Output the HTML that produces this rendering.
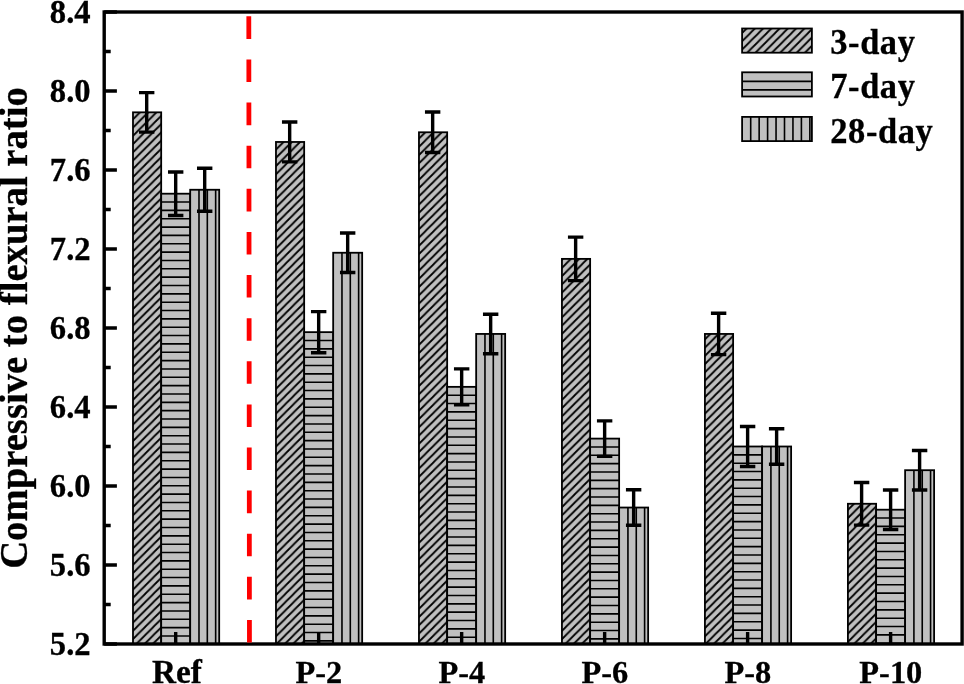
<!DOCTYPE html>
<html lang="en"><head><meta charset="utf-8"><title>Compressive to flexural ratio</title>
<style>html,body{margin:0;padding:0;background:#fff;}body{width:964px;height:684px;overflow:hidden;}svg{display:block;will-change:transform;}text{font-family:"Liberation Serif","Times New Roman",serif;font-weight:bold;fill:#000;stroke:#000;stroke-width:0.3px;}</style></head><body>
<svg width="964" height="684" viewBox="0 0 964 684">
<defs>
<pattern id="hd" patternUnits="userSpaceOnUse" width="8.25" height="8.25" patternTransform="translate(4.8,0)"><rect width="8.25" height="8.25" fill="#c0c0c0"/><path d="M-4.125,4.125 L4.125,-4.125 M-1,9.25 L9.25,-1 M4.125,12.375 L12.375,4.125" stroke="#000" stroke-width="1.8" fill="none"/></pattern>
<pattern id="hd2" patternUnits="userSpaceOnUse" width="8.25" height="8.25" patternTransform="translate(7.9,0)"><rect width="8.25" height="8.25" fill="#c0c0c0"/><path d="M-4.125,4.125 L4.125,-4.125 M-1,9.25 L9.25,-1 M4.125,12.375 L12.375,4.125" stroke="#000" stroke-width="1.8" fill="none"/></pattern>
</defs>
<rect width="964" height="684" fill="#fff"/>
<g>
<rect x="132.99" y="112.33" width="28.2" height="531.67" fill="url(#hd)"/>
<rect x="132.99" y="112.33" width="28.2" height="531.67" fill="none" stroke="#000" stroke-width="1.8"/>
</g>
<g>
<rect x="161.19" y="193.70" width="29.0" height="450.30" fill="#c0c0c0"/>
<path d="M161.19,202.04h29.0M161.19,210.39h29.0M161.19,218.73h29.0M161.19,227.08h29.0M161.19,235.42h29.0M161.19,243.77h29.0M161.19,252.11h29.0M161.19,260.46h29.0M161.19,268.81h29.0M161.19,277.15h29.0M161.19,285.50h29.0M161.19,293.84h29.0M161.19,302.19h29.0M161.19,310.53h29.0M161.19,318.88h29.0M161.19,327.22h29.0M161.19,335.57h29.0M161.19,343.91h29.0M161.19,352.26h29.0M161.19,360.60h29.0M161.19,368.95h29.0M161.19,377.29h29.0M161.19,385.64h29.0M161.19,393.98h29.0M161.19,402.33h29.0M161.19,410.67h29.0M161.19,419.02h29.0M161.19,427.36h29.0M161.19,435.71h29.0M161.19,444.05h29.0M161.19,452.40h29.0M161.19,460.74h29.0M161.19,469.09h29.0M161.19,477.43h29.0M161.19,485.78h29.0M161.19,494.12h29.0M161.19,502.47h29.0M161.19,510.81h29.0M161.19,519.16h29.0M161.19,527.50h29.0M161.19,535.85h29.0M161.19,544.19h29.0M161.19,552.54h29.0M161.19,560.88h29.0M161.19,569.23h29.0M161.19,577.57h29.0M161.19,585.92h29.0M161.19,594.26h29.0M161.19,602.61h29.0M161.19,610.95h29.0M161.19,619.30h29.0M161.19,627.64h29.0M161.19,635.99h29.0" stroke="#000" stroke-width="1.6" fill="none"/>
<rect x="161.19" y="193.70" width="29.0" height="450.30" fill="none" stroke="#000" stroke-width="1.8"/>
</g>
<g>
<rect x="190.19" y="189.75" width="29.0" height="454.25" fill="#c0c0c0"/>
<path d="M198.99,189.75V644.0M207.32,189.75V644.0M215.65,189.75V644.0" stroke="#000" stroke-width="1.6" fill="none"/>
<rect x="190.19" y="189.75" width="29.0" height="454.25" fill="none" stroke="#000" stroke-width="1.8"/>
</g>
<g>
<rect x="275.97" y="141.96" width="28.2" height="502.04" fill="url(#hd)"/>
<rect x="275.97" y="141.96" width="28.2" height="502.04" fill="none" stroke="#000" stroke-width="1.8"/>
</g>
<g>
<rect x="304.17" y="332.15" width="29.0" height="311.85" fill="#c0c0c0"/>
<path d="M304.17,340.49h29.0M304.17,348.84h29.0M304.17,357.18h29.0M304.17,365.53h29.0M304.17,373.87h29.0M304.17,382.22h29.0M304.17,390.56h29.0M304.17,398.91h29.0M304.17,407.25h29.0M304.17,415.60h29.0M304.17,423.94h29.0M304.17,432.29h29.0M304.17,440.63h29.0M304.17,448.98h29.0M304.17,457.32h29.0M304.17,465.67h29.0M304.17,474.01h29.0M304.17,482.36h29.0M304.17,490.70h29.0M304.17,499.05h29.0M304.17,507.39h29.0M304.17,515.74h29.0M304.17,524.08h29.0M304.17,532.43h29.0M304.17,540.77h29.0M304.17,549.12h29.0M304.17,557.46h29.0M304.17,565.81h29.0M304.17,574.15h29.0M304.17,582.50h29.0M304.17,590.84h29.0M304.17,599.19h29.0M304.17,607.53h29.0M304.17,615.88h29.0M304.17,624.22h29.0M304.17,632.57h29.0M304.17,640.91h29.0" stroke="#000" stroke-width="1.6" fill="none"/>
<rect x="304.17" y="332.15" width="29.0" height="311.85" fill="none" stroke="#000" stroke-width="1.8"/>
</g>
<g>
<rect x="333.17" y="252.75" width="29.0" height="391.25" fill="#c0c0c0"/>
<path d="M341.97,252.75V644.0M350.30,252.75V644.0M358.63,252.75V644.0" stroke="#000" stroke-width="1.6" fill="none"/>
<rect x="333.17" y="252.75" width="29.0" height="391.25" fill="none" stroke="#000" stroke-width="1.8"/>
</g>
<g>
<rect x="418.96" y="132.28" width="28.2" height="511.72" fill="url(#hd)"/>
<rect x="418.96" y="132.28" width="28.2" height="511.72" fill="none" stroke="#000" stroke-width="1.8"/>
</g>
<g>
<rect x="447.16" y="386.86" width="29.0" height="257.14" fill="#c0c0c0"/>
<path d="M447.16,395.20h29.0M447.16,403.55h29.0M447.16,411.89h29.0M447.16,420.24h29.0M447.16,428.58h29.0M447.16,436.93h29.0M447.16,445.27h29.0M447.16,453.62h29.0M447.16,461.96h29.0M447.16,470.31h29.0M447.16,478.65h29.0M447.16,487.00h29.0M447.16,495.34h29.0M447.16,503.69h29.0M447.16,512.03h29.0M447.16,520.38h29.0M447.16,528.72h29.0M447.16,537.07h29.0M447.16,545.41h29.0M447.16,553.76h29.0M447.16,562.10h29.0M447.16,570.45h29.0M447.16,578.79h29.0M447.16,587.14h29.0M447.16,595.48h29.0M447.16,603.83h29.0M447.16,612.17h29.0M447.16,620.52h29.0M447.16,628.86h29.0M447.16,637.21h29.0" stroke="#000" stroke-width="1.6" fill="none"/>
<rect x="447.16" y="386.86" width="29.0" height="257.14" fill="none" stroke="#000" stroke-width="1.8"/>
</g>
<g>
<rect x="476.16" y="333.93" width="29.0" height="310.07" fill="#c0c0c0"/>
<path d="M484.96,333.93V644.0M493.29,333.93V644.0M501.62,333.93V644.0" stroke="#000" stroke-width="1.6" fill="none"/>
<rect x="476.16" y="333.93" width="29.0" height="310.07" fill="none" stroke="#000" stroke-width="1.8"/>
</g>
<g>
<rect x="561.94" y="258.88" width="28.2" height="385.12" fill="url(#hd)"/>
<rect x="561.94" y="258.88" width="28.2" height="385.12" fill="none" stroke="#000" stroke-width="1.8"/>
</g>
<g>
<rect x="590.14" y="438.60" width="29.0" height="205.40" fill="#c0c0c0"/>
<path d="M590.14,446.95h29.0M590.14,455.29h29.0M590.14,463.64h29.0M590.14,471.98h29.0M590.14,480.33h29.0M590.14,488.67h29.0M590.14,497.02h29.0M590.14,505.36h29.0M590.14,513.71h29.0M590.14,522.05h29.0M590.14,530.40h29.0M590.14,538.74h29.0M590.14,547.09h29.0M590.14,555.43h29.0M590.14,563.78h29.0M590.14,572.12h29.0M590.14,580.47h29.0M590.14,588.81h29.0M590.14,597.16h29.0M590.14,605.50h29.0M590.14,613.85h29.0M590.14,622.19h29.0M590.14,630.54h29.0M590.14,638.88h29.0" stroke="#000" stroke-width="1.6" fill="none"/>
<rect x="590.14" y="438.60" width="29.0" height="205.40" fill="none" stroke="#000" stroke-width="1.8"/>
</g>
<g>
<rect x="619.14" y="507.53" width="29.0" height="136.47" fill="#c0c0c0"/>
<path d="M627.94,507.53V644.0M636.27,507.53V644.0M644.60,507.53V644.0" stroke="#000" stroke-width="1.6" fill="none"/>
<rect x="619.14" y="507.53" width="29.0" height="136.47" fill="none" stroke="#000" stroke-width="1.8"/>
</g>
<g>
<rect x="704.92" y="333.93" width="28.2" height="310.07" fill="url(#hd)"/>
<rect x="704.92" y="333.93" width="28.2" height="310.07" fill="none" stroke="#000" stroke-width="1.8"/>
</g>
<g>
<rect x="733.12" y="446.50" width="29.0" height="197.50" fill="#c0c0c0"/>
<path d="M733.12,454.85h29.0M733.12,463.19h29.0M733.12,471.54h29.0M733.12,479.88h29.0M733.12,488.23h29.0M733.12,496.57h29.0M733.12,504.92h29.0M733.12,513.26h29.0M733.12,521.61h29.0M733.12,529.95h29.0M733.12,538.30h29.0M733.12,546.64h29.0M733.12,554.99h29.0M733.12,563.33h29.0M733.12,571.68h29.0M733.12,580.02h29.0M733.12,588.37h29.0M733.12,596.71h29.0M733.12,605.06h29.0M733.12,613.40h29.0M733.12,621.75h29.0M733.12,630.09h29.0M733.12,638.44h29.0" stroke="#000" stroke-width="1.6" fill="none"/>
<rect x="733.12" y="446.50" width="29.0" height="197.50" fill="none" stroke="#000" stroke-width="1.8"/>
</g>
<g>
<rect x="762.12" y="446.50" width="29.0" height="197.50" fill="#c0c0c0"/>
<path d="M770.92,446.50V644.0M779.25,446.50V644.0M787.59,446.50V644.0" stroke="#000" stroke-width="1.6" fill="none"/>
<rect x="762.12" y="446.50" width="29.0" height="197.50" fill="none" stroke="#000" stroke-width="1.8"/>
</g>
<g>
<rect x="847.91" y="503.77" width="28.2" height="140.23" fill="url(#hd)"/>
<rect x="847.91" y="503.77" width="28.2" height="140.23" fill="none" stroke="#000" stroke-width="1.8"/>
</g>
<g>
<rect x="876.11" y="509.70" width="29.0" height="134.30" fill="#c0c0c0"/>
<path d="M876.11,518.05h29.0M876.11,526.39h29.0M876.11,534.74h29.0M876.11,543.08h29.0M876.11,551.43h29.0M876.11,559.77h29.0M876.11,568.12h29.0M876.11,576.46h29.0M876.11,584.81h29.0M876.11,593.15h29.0M876.11,601.50h29.0M876.11,609.84h29.0M876.11,618.19h29.0M876.11,626.53h29.0M876.11,634.88h29.0M876.11,643.22h29.0" stroke="#000" stroke-width="1.6" fill="none"/>
<rect x="876.11" y="509.70" width="29.0" height="134.30" fill="none" stroke="#000" stroke-width="1.8"/>
</g>
<g>
<rect x="905.11" y="470.20" width="29.0" height="173.80" fill="#c0c0c0"/>
<path d="M913.91,470.20V644.0M922.24,470.20V644.0M930.57,470.20V644.0" stroke="#000" stroke-width="1.6" fill="none"/>
<rect x="905.11" y="470.20" width="29.0" height="173.80" fill="none" stroke="#000" stroke-width="1.8"/>
</g>
<path d="M146.69,92.58V132.08M138.99,92.58h15.4M138.99,132.08h15.4" stroke="#000" stroke-width="3.4" fill="none"/>
<path d="M175.69,171.97V215.43M167.99,171.97h15.4M167.99,215.43h15.4" stroke="#000" stroke-width="3.4" fill="none"/>
<path d="M204.69,168.22V211.28M196.99,168.22h15.4M196.99,211.28h15.4" stroke="#000" stroke-width="3.4" fill="none"/>
<path d="M289.67,122.01V161.90M281.97,122.01h15.4M281.97,161.90h15.4" stroke="#000" stroke-width="3.4" fill="none"/>
<path d="M318.67,311.61V352.69M310.97,311.61h15.4M310.97,352.69h15.4" stroke="#000" stroke-width="3.4" fill="none"/>
<path d="M347.67,233.00V272.50M339.97,233.00h15.4M339.97,272.50h15.4" stroke="#000" stroke-width="3.4" fill="none"/>
<path d="M432.66,112.03V152.52M424.96,112.03h15.4M424.96,152.52h15.4" stroke="#000" stroke-width="3.4" fill="none"/>
<path d="M461.66,368.88V404.83M453.96,368.88h15.4M453.96,404.83h15.4" stroke="#000" stroke-width="3.4" fill="none"/>
<path d="M490.66,314.18V353.68M482.96,314.18h15.4M482.96,353.68h15.4" stroke="#000" stroke-width="3.4" fill="none"/>
<path d="M575.64,237.15V280.60M567.94,237.15h15.4M567.94,280.60h15.4" stroke="#000" stroke-width="3.4" fill="none"/>
<path d="M604.64,420.83V456.38M596.94,420.83h15.4M596.94,456.38h15.4" stroke="#000" stroke-width="3.4" fill="none"/>
<path d="M633.64,489.75V525.30M625.94,489.75h15.4M625.94,525.30h15.4" stroke="#000" stroke-width="3.4" fill="none"/>
<path d="M718.62,313.19V354.66M710.92,313.19h15.4M710.92,354.66h15.4" stroke="#000" stroke-width="3.4" fill="none"/>
<path d="M747.62,426.45V466.55M739.92,426.45h15.4M739.92,466.55h15.4" stroke="#000" stroke-width="3.4" fill="none"/>
<path d="M776.62,428.73V464.27M768.92,428.73h15.4M768.92,464.27h15.4" stroke="#000" stroke-width="3.4" fill="none"/>
<path d="M861.61,482.45V525.10M853.91,482.45h15.4M853.91,525.10h15.4" stroke="#000" stroke-width="3.4" fill="none"/>
<path d="M890.61,489.95V529.45M882.91,489.95h15.4M882.91,529.45h15.4" stroke="#000" stroke-width="3.4" fill="none"/>
<path d="M919.61,450.45V489.95M911.91,450.45h15.4M911.91,489.95h15.4" stroke="#000" stroke-width="3.4" fill="none"/>
<rect x="104.2" y="12.0" width="857.9" height="632.0" fill="none" stroke="#000" stroke-width="3.4"/>
<path d="M248.8,16.3L249.45,643" stroke="#ff0000" stroke-width="4.8" stroke-dasharray="22.6 20.52" fill="none"/>
<path d="M104.2,644.00h12.7M104.2,604.50h6.5M104.2,565.00h12.7M104.2,525.50h6.5M104.2,486.00h12.7M104.2,446.50h6.5M104.2,407.00h12.7M104.2,367.50h6.5M104.2,328.00h12.7M104.2,288.50h6.5M104.2,249.00h12.7M104.2,209.50h6.5M104.2,170.00h12.7M104.2,130.50h6.5M104.2,91.00h12.7M104.2,51.50h6.5M104.2,12.00h12.7" stroke="#000" stroke-width="3.4" fill="none"/>
<path d="M175.69,644.0v-12M318.67,644.0v-12M461.66,644.0v-12M604.64,644.0v-12M747.62,644.0v-12M890.61,644.0v-12" stroke="#000" stroke-width="3.4" fill="none"/>
<text transform="translate(90.6,655.10) scale(1,1.06)" font-size="32.6" text-anchor="end">5.2</text>
<text transform="translate(90.6,576.10) scale(1,1.06)" font-size="32.6" text-anchor="end">5.6</text>
<text transform="translate(90.6,497.10) scale(1,1.06)" font-size="32.6" text-anchor="end">6.0</text>
<text transform="translate(90.6,418.10) scale(1,1.06)" font-size="32.6" text-anchor="end">6.4</text>
<text transform="translate(90.6,339.10) scale(1,1.06)" font-size="32.6" text-anchor="end">6.8</text>
<text transform="translate(90.6,260.10) scale(1,1.06)" font-size="32.6" text-anchor="end">7.2</text>
<text transform="translate(90.6,181.10) scale(1,1.06)" font-size="32.6" text-anchor="end">7.6</text>
<text transform="translate(90.6,102.10) scale(1,1.06)" font-size="32.6" text-anchor="end">8.0</text>
<text transform="translate(90.6,23.10) scale(1,1.06)" font-size="32.6" text-anchor="end">8.4</text>
<text x="176.89" y="682.5" font-size="33.3" text-anchor="middle">Ref</text>
<text x="318.87" y="682.5" font-size="32.4" text-anchor="middle">P-2</text>
<text x="461.86" y="682.5" font-size="32.4" text-anchor="middle">P-4</text>
<text x="604.84" y="682.5" font-size="32.4" text-anchor="middle">P-6</text>
<text x="747.83" y="682.5" font-size="32.4" text-anchor="middle">P-8</text>
<text x="890.81" y="682.5" font-size="32.4" text-anchor="middle">P-10</text>
<text transform="translate(27.0,328.0) rotate(-90) scale(1,1.03)" font-size="38.7" text-anchor="middle">Compressive to flexural ratio</text>
<rect x="742.1" y="28.5" width="69.8" height="24.2" fill="url(#hd2)"/>
<rect x="742.1" y="28.5" width="69.8" height="24.2" fill="none" stroke="#000" stroke-width="1.8"/>
<text transform="translate(830.3,54.20) scale(1,1.025)" font-size="34.5" letter-spacing="0.55">3-day</text>
<rect x="742.1" y="72.3" width="69.8" height="24.2" fill="#c0c0c0"/>
<path d="M742.1,81.40h69.8M742.1,89.90h69.8" stroke="#000" stroke-width="1.6" fill="none"/>
<rect x="742.1" y="72.3" width="69.8" height="24.2" fill="none" stroke="#000" stroke-width="1.8"/>
<text transform="translate(830.3,98.00) scale(1,1.025)" font-size="34.5" letter-spacing="0.55">7-day</text>
<rect x="742.1" y="116.9" width="69.8" height="24.2" fill="#c0c0c0"/>
<path d="M750.70,116.9v24.2M759.15,116.9v24.2M767.60,116.9v24.2M776.05,116.9v24.2M784.50,116.9v24.2M792.95,116.9v24.2M801.40,116.9v24.2M809.85,116.9v24.2" stroke="#000" stroke-width="1.6" fill="none"/>
<rect x="742.1" y="116.9" width="69.8" height="24.2" fill="none" stroke="#000" stroke-width="1.8"/>
<text transform="translate(830.3,142.60) scale(1,1.025)" font-size="34.5" letter-spacing="0.55">28-day</text>
</svg></body></html>
